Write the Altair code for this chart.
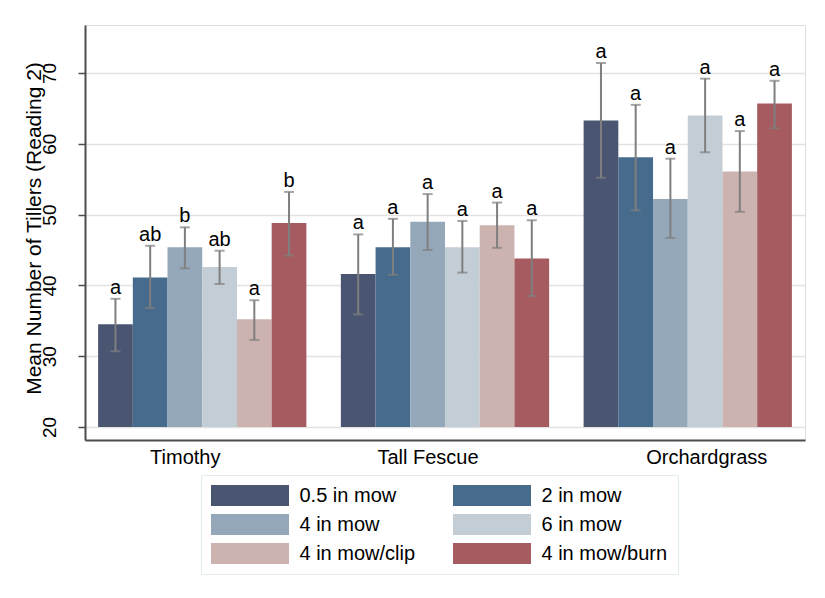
import altair as alt
import pandas as pd

# Grass species (x groups) and treatments (bars within a group)
grasses = ["Timothy", "Tall Fescue", "Orchardgrass"]
treatments = ["0.5 in mow", "2 in mow", "4 in mow", "6 in mow",
              "4 in mow/clip", "4 in mow/burn"]
palette = ["#4a5572", "#476b8c", "#94a8b9", "#c3cdd6", "#cdb3af", "#a55b60"]

# Mean tiller counts and confidence limits, one list per grass (treatment order)
timothy_mean = [34.5, 41.1, 45.4, 42.6, 35.2, 48.8]
timothy_lo = [30.7, 36.8, 42.4, 40.2, 32.3, 44.2]
timothy_hi = [38.1, 45.6, 48.2, 44.9, 37.9, 53.2]
timothy_grp = ["a", "ab", "b", "ab", "a", "b"]

fescue_mean = [41.6, 45.4, 49.0, 45.4, 48.5, 43.8]
fescue_lo = [35.9, 41.5, 45.0, 41.8, 45.3, 38.5]
fescue_hi = [47.2, 49.4, 52.9, 49.1, 51.7, 49.2]
fescue_grp = ["a", "a", "a", "a", "a", "a"]

orchard_mean = [63.3, 58.1, 52.2, 64.0, 56.1, 65.7]
orchard_lo = [55.2, 50.6, 46.7, 58.8, 50.4, 62.2]
orchard_hi = [71.4, 65.5, 57.9, 69.2, 61.8, 68.9]
orchard_grp = ["a", "a", "a", "a", "a", "a"]

rows = []
for grass, m, lo, hi, grp in [
    ("Timothy", timothy_mean, timothy_lo, timothy_hi, timothy_grp),
    ("Tall Fescue", fescue_mean, fescue_lo, fescue_hi, fescue_grp),
    ("Orchardgrass", orchard_mean, orchard_lo, orchard_hi, orchard_grp),
]:
    for t, mv, lv, hv, g in zip(treatments, m, lo, hi, grp):
        rows.append({"grass": grass, "treatment": t, "mean": mv,
                     "lo": lv, "hi": hv, "letter": g})
df = pd.DataFrame(rows)

FONT = "Liberation Sans"

x = alt.X(
    "grass:N", sort=grasses, title=None,
    scale=alt.Scale(paddingInner=0.142, paddingOuter=0.054),
    axis=alt.Axis(
        ticks=False, tickSize=0, labelAngle=0, labelFontSize=20,
        labelFont=FONT, labelColor="black", labelPadding=7,
        labelBaseline="top", domainColor="#4d4d4d", domainWidth=2,
        grid=False,
        labelOffset={"condition": {"test": "datum.value == 'Orchardgrass'",
                                   "value": 19}, "value": -17},
    ),
)
xoff = alt.XOffset("treatment:N", sort=treatments,
                   scale=alt.Scale(paddingInner=0, paddingOuter=0))
yscale = alt.Scale(domain=[18.16, 76.78], nice=False, zero=False)

# Legend swatches: wide flat rectangles (78 x 21 px); the symbol size sets
# the row height, the path is stretched sideways beyond the unit box.
bars = alt.Chart(df).mark_bar(strokeWidth=0).encode(
    x=x,
    xOffset=xoff,
    y=alt.Y(
        "mean:Q", scale=yscale,
        title="Mean Number of Tillers (Reading 2)",
        axis=alt.Axis(
            values=[20, 30, 40, 50, 60, 70], labelAngle=270,
            labelAlign="center", labelBaseline="alphabetic",
            labelFontSize=19, labelFont=FONT, labelColor="black",
            labelPadding=23, tickSize=7, tickColor="#4d4d4d", tickWidth=1.5,
            domainColor="#4d4d4d", domainWidth=2,
            gridColor="#e2e2e2", gridWidth=1.5,
            titleFont=FONT, titleFontSize=21, titleFontWeight="normal",
            titleColor="black", titleAngle=270, titleAlign="center",
            titleBaseline="alphabetic", titleX=-45, titleY=203,
        ),
    ),
    y2=alt.datum(20),
    fill=alt.Fill(
        "treatment:N", sort=treatments,
        scale=alt.Scale(domain=treatments, range=palette),
        legend=alt.Legend(
            title=None, orient="none", legendX=116, legendY=450,
            columns=2, direction="horizontal",
            symbolType="M-3.714,-1H3.714V1H-3.714Z", symbolSize=441,
            symbolOffset=28.5, symbolStrokeWidth=0,
            labelFont=FONT, labelFontSize=20, labelColor="black",
            labelOffset=39, labelLimit=400,
            columnPadding=37, rowPadding=8, padding=10,
            strokeColor="#e4eded", fillColor="white",
        ),
    ),
)

whiskers = alt.Chart(df).mark_rule(color="#7f7f7f", strokeWidth=2).encode(
    x=x, xOffset=xoff, y=alt.Y("lo:Q", scale=yscale), y2="hi:Q",
)
caps_hi = alt.Chart(df).mark_tick(color="#7f7f7f", thickness=2, size=10).encode(
    x=x, xOffset=xoff, y=alt.Y("hi:Q", scale=yscale),
)
caps_lo = alt.Chart(df).mark_tick(color="#7f7f7f", thickness=2, size=10).encode(
    x=x, xOffset=xoff, y=alt.Y("lo:Q", scale=yscale),
)
letters = alt.Chart(df).mark_text(
    font=FONT, fontSize=20, color="black", baseline="alphabetic", dy=-5,
).encode(
    x=x, xOffset=xoff, y=alt.Y("hi:Q", scale=yscale), text="letter:N",
)

chart = (
    alt.layer(bars, whiskers, caps_hi, caps_lo, letters)
    .properties(
        width=720, height=415,
        autosize=alt.AutoSizeParams(type="none"),
        padding={"left": 85, "top": 25, "right": 20, "bottom": 158},
    )
    .configure_view(stroke=None)
    .configure(background="white")
)

chart.save("out.html", embed_options={"renderer": "svg", "actions": False})
